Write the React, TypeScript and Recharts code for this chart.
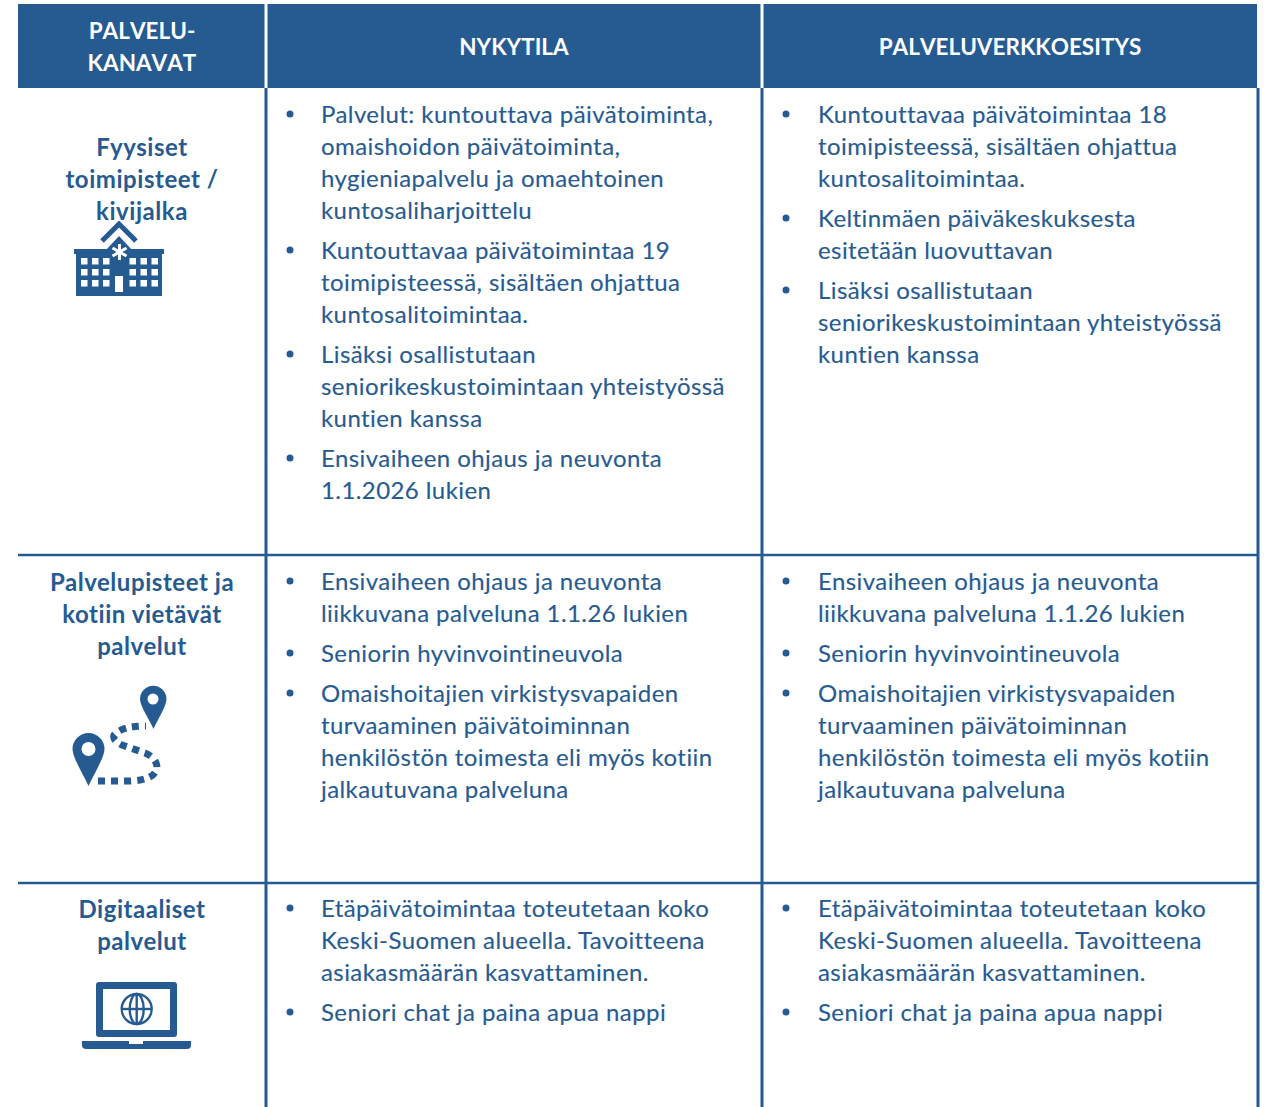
import React from "react";
import { ScatterChart, Scatter, XAxis, YAxis, ReferenceArea, ReferenceLine } from "recharts";

const W = 1268;
const H = 1107;
const BLUE = "#265B92";
const FONT = "Lato, Carlito, sans-serif";

// ---- content ----
const headerTexts = [
  { x: 142, y: 31, text: "PALVELU-" },
  { x: 142, y: 63, text: "KANAVAT" },
  { x: 514, y: 47, text: "NYKYTILA" },
  { x: 1010, y: 47, text: "PALVELUVERKKOESITYS" },
];
const channelLabels = [
  { y: 147, lines: ["Fyysiset", "toimipisteet /", "kivijalka"] },
  { y: 582, lines: ["Palvelupisteet ja", "kotiin vietävät", "palvelut"] },
  { y: 909, lines: ["Digitaaliset", "palvelut"] },
];
const nowRow1 = [
  ["Palvelut: kuntouttava päivätoiminta,", "omaishoidon päivätoiminta,", "hygieniapalvelu ja omaehtoinen", "kuntosaliharjoittelu"],
  ["Kuntouttavaa päivätoimintaa 19", "toimipisteessä, sisältäen ohjattua", "kuntosalitoimintaa."],
  ["Lisäksi osallistutaan", "seniorikeskustoimintaan yhteistyössä", "kuntien kanssa"],
  ["Ensivaiheen ohjaus ja neuvonta", "1.1.2026 lukien"],
];
const planRow1 = [
  ["Kuntouttavaa päivätoimintaa 18", "toimipisteessä, sisältäen ohjattua", "kuntosalitoimintaa."],
  ["Keltinmäen päiväkeskuksesta", "esitetään luovuttavan"],
  ["Lisäksi osallistutaan", "seniorikeskustoimintaan yhteistyössä", "kuntien kanssa"],
];
const sharedRow2 = [
  ["Ensivaiheen ohjaus ja neuvonta", "liikkuvana palveluna 1.1.26 lukien"],
  ["Seniorin hyvinvointineuvola"],
  ["Omaishoitajien virkistysvapaiden", "turvaaminen päivätoiminnan", "henkilöstön toimesta eli myös kotiin", "jalkautuvana palveluna"],
];
const sharedRow3 = [
  ["Etäpäivätoimintaa toteutetaan koko", "Keski-Suomen alueella. Tavoitteena", "asiakasmäärän kasvattaminen."],
  ["Seniori chat ja paina apua nappi"],
];
const cells = [
  { textX: 321, dotX: 290, y: 115, bullets: nowRow1 },
  { textX: 818, dotX: 786, y: 115, bullets: planRow1 },
  { textX: 321, dotX: 290, y: 582, bullets: sharedRow2 },
  { textX: 818, dotX: 786, y: 582, bullets: sharedRow2 },
  { textX: 321, dotX: 290, y: 909, bullets: sharedRow3 },
  { textX: 818, dotX: 786, y: 909, bullets: sharedRow3 },
];
const columnLines = [266, 762, 1258];
const rowLines = [555, 883];
const icons = [
  { x: 119, y: 259, kind: "building" },
  { x: 116, y: 736, kind: "route" },
  { x: 136, y: 1015, kind: "laptop" },
];

// ---- tables built from the content ----
const LINE = 32;
const GAP = 8;
const bodyLines: { x: number; y: number; text: string }[] = [];
const bulletDots: { x: number; y: number }[] = [];
cells.forEach((c) => {
  let y = c.y;
  c.bullets.forEach((b) => {
    bulletDots.push({ x: c.dotX, y: y - 1 });
    b.forEach((t) => {
      bodyLines.push({ x: c.textX, y, text: t });
      y += LINE;
    });
    y += GAP;
  });
});
const channelLines = channelLabels.flatMap((c) =>
  c.lines.map((t, i) => ({ x: 142, y: c.y + i * LINE, text: t }))
);

// ---- shapes ----
const BodyText = (p: any) => (
  <text x={p.cx} y={p.cy + 8} fontFamily={FONT} fontSize={24} letterSpacing={0.42} fill={BLUE} stroke={BLUE} strokeWidth={0.15}>
    {p.payload.text}
  </text>
);
const BoldText = (p: any) => (
  <text x={p.cx} y={p.cy + 9} textAnchor="middle" fontFamily={FONT} fontSize={24} fontWeight={700} letterSpacing={0.55} fill={BLUE}>
    {p.payload.text}
  </text>
);
const HeadText = (p: any) => (
  <text x={p.cx} y={p.cy + 8} textAnchor="middle" fontFamily={FONT} fontSize={22.5} fontWeight={700} style={{ fontKerning: "none" }} fill="#FFFFFF">
    {p.payload.text}
  </text>
);
const Dot = (p: any) => <circle cx={p.cx} cy={p.cy} r={3.5} fill={BLUE} />;

const Building = () => {
  const xs = [81, 92, 103, 129.5, 140.5, 151.5];
  const ys = [258, 269, 280];
  return (
    <g>
      <path d="M102 241 L119 224 L136 241" fill="none" stroke={BLUE} strokeWidth={5} />
      <path d="M106 250 L119 236 L132 250 L132 256 L106 256 Z" fill={BLUE} />
      <rect x={74} y={249} width={90} height={5} fill={BLUE} />
      <rect x={76} y={254} width={86} height={42} fill={BLUE} />
      {xs.flatMap((x) => ys.map((y) => <rect key={x + "-" + y} x={x} y={y} width={6.5} height={6.5} fill="#fff" />))}
      <rect x={115} y={276} width={8} height={16} fill="#fff" />
      <g stroke="#fff" strokeWidth={3}>
        <line x1={119.5} y1={244} x2={119.5} y2={260} />
        <line x1={112.5} y1={248} x2={126.5} y2={256} />
        <line x1={112.5} y1={256} x2={126.5} y2={248} />
      </g>
    </g>
  );
};
const Route = () => (
  <g>
    <path d="M72.5 749 A16 16 0 1 1 104.5 749 C104.5 757 95 772 88.5 786 C82 772 72.5 757 72.5 749 Z M81.5 749 A7 7 0 1 0 95.5 749 A7 7 0 1 0 81.5 749 Z" fill={BLUE} fillRule="evenodd" />
    <path d="M140 699 A13 13 0 1 1 166.5 699 C166.5 706 158.5 718 153.5 729 C148.5 718 140 706 140 699 Z M147.5 699 A5.5 5.5 0 1 0 158.5 699 A5.5 5.5 0 1 0 147.5 699 Z" fill={BLUE} fillRule="evenodd" />
    <path d="M98 781 L130 781 Q155 780 157 768 Q157 758 145 753 L122 745 Q112 740 114 735 Q122 726 146 726" fill="none" stroke={BLUE} strokeWidth={7} strokeDasharray="7 6" />
  </g>
);
const Laptop = () => (
  <g>
    <rect x={96} y={982} width={81} height={55} rx={3} fill={BLUE} />
    <rect x={103} y={989} width={67} height={41} fill="#fff" />
    <g fill="none" stroke={BLUE} strokeWidth={2.4}>
      <circle cx={136.7} cy={1009} r={15} />
      <ellipse cx={136.7} cy={1009} rx={7} ry={15} />
      <line x1={136.7} y1={994} x2={136.7} y2={1024} />
      <line x1={122} y1={1009} x2={151.5} y2={1009} />
    </g>
    <path d="M82 1041 H191 V1045 A4 4 0 0 1 187 1049 H86 A4 4 0 0 1 82 1045 Z" fill={BLUE} />
    <rect x={129} y={1041} width={14} height={3} fill="#fff" />
  </g>
);
const IconShape = (p: any) =>
  p.payload.kind === "building" ? <Building /> : p.payload.kind === "route" ? <Route /> : <Laptop />;

export default function App() {
  return (
    <div style={{ position: "absolute", left: 0, top: 0, width: W, height: H, background: "#fff" }}>
      <ScatterChart width={W} height={H} margin={{ top: 0, right: 0, bottom: 0, left: 0 }}>
        <XAxis type="number" dataKey="x" domain={[0, W]} hide />
        <YAxis type="number" dataKey="y" domain={[0, H]} reversed hide />
        <ReferenceArea x1={18} x2={1257} y1={4} y2={88} fill={BLUE} fillOpacity={1} stroke="none" />
        {columnLines.slice(0, 2).map((x) => (
          <ReferenceLine key={"w" + x} segment={[{ x, y: 4 }, { x, y: 88 }]} stroke="#FFFFFF" strokeWidth={3} />
        ))}
        {columnLines.map((x) => (
          <ReferenceLine key={"b" + x} segment={[{ x, y: 88 }, { x, y: H }]} stroke={BLUE} strokeWidth={3} />
        ))}
        {rowLines.map((y) => (
          <ReferenceLine key={"h" + y} segment={[{ x: 18, y }, { x: 1258, y }]} stroke={BLUE} strokeWidth={2.5} />
        ))}
        <Scatter data={headerTexts} shape={HeadText} isAnimationActive={false} />
        <Scatter data={channelLines} shape={BoldText} isAnimationActive={false} />
        <Scatter data={bodyLines} shape={BodyText} isAnimationActive={false} />
        <Scatter data={bulletDots} shape={Dot} isAnimationActive={false} />
        <Scatter data={icons} shape={IconShape} isAnimationActive={false} />
      </ScatterChart>
    </div>
  );
}
